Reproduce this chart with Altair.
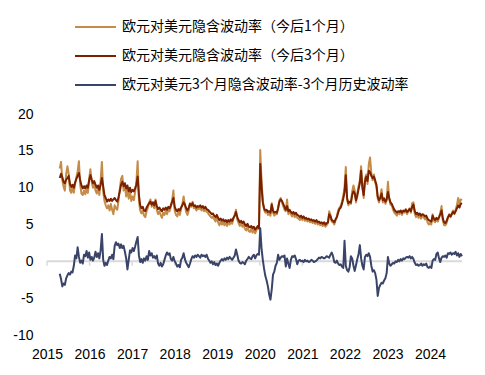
import altair as alt
import pandas as pd

names = [
    "欧元对美元隐含波动率（今后1个月）",
    "欧元对美元隐含波动率（今后3个月）",
    "欧元对美元3个月隐含波动率-3个月历史波动率",
]
colors = ["#C58B47", "#7A2200", "#3A4468"]
year_ticks = list(range(2015, 2025))
y_ticks = [-10, -5, 0, 5, 10, 15, 20]

# sampling grid: start year and step (years)
t0 = 2015.30
dt = 0.03

vol_1m = [
    12.6, 13.5, 11.0, 10.1, 9.6, 11.8, 12.9, 11.9, 9.6, 9.3,
    10.2, 9.3, 10.5, 11.4, 12.2, 13.6, 10.4, 9.2, 9.0, 9.6,
    9.1, 9.8, 9.3, 11.2, 12.5, 10.8, 10.0, 10.7, 9.6, 9.2,
    10.0, 9.0, 11.0, 13.5, 9.5, 8.2, 7.6, 7.2, 7.6, 6.9,
    7.8, 7.0, 6.4, 7.6, 7.2, 7.0, 8.2, 9.8, 11.2, 11.6,
    9.6, 10.4, 8.8, 9.8, 8.5, 9.6, 8.2, 8.8, 8.3, 9.4,
    10.8, 13.6, 8.2, 6.9, 6.5, 6.9, 6.2, 6.0, 6.8, 7.3,
    8.0, 8.4, 7.4, 8.0, 7.2, 8.4, 7.0, 6.4, 6.8, 6.3,
    5.9, 6.6, 6.3, 6.9, 6.4, 7.0, 6.8, 7.4, 8.3, 9.6,
    6.9, 6.3, 6.1, 6.7, 6.3, 7.1, 7.8, 8.8, 7.6, 6.7,
    6.3, 6.9, 7.9, 7.4, 8.1, 7.2, 7.4, 6.9, 7.3, 7.1,
    7.4, 6.9, 7.3, 6.8, 7.2, 6.7, 6.6, 6.3, 6.1, 5.9,
    6.1, 5.7, 5.4, 6.0, 5.3, 4.9, 5.4, 5.0, 5.3, 4.9,
    5.2, 4.8, 5.3, 5.0, 5.4, 5.1, 5.8, 6.3, 7.0, 5.7,
    5.2, 4.8, 5.2, 4.7, 5.0, 4.4, 4.2, 4.7, 4.1, 4.0,
    4.4, 3.9, 4.3, 3.8, 4.2, 4.6, 4.4, 15.1, 11.0, 8.2,
    7.0, 6.6, 6.8, 6.3, 6.5, 6.2, 7.9, 6.6, 6.2, 6.4,
    6.4, 7.3, 8.3, 8.6, 8.0, 7.5, 7.0, 6.8, 8.4, 6.4,
    6.8, 6.4, 6.1, 6.5, 6.0, 6.3, 5.9, 5.8, 5.6, 5.9,
    5.6, 5.9, 5.5, 5.7, 5.4, 5.6, 5.3, 5.5, 5.2, 5.4,
    5.1, 5.4, 5.0, 5.2, 4.9, 5.0, 4.8, 5.1, 4.7, 4.9,
    5.2, 6.8, 6.3, 5.4, 5.3, 5.0, 5.6, 6.1, 6.9, 7.3,
    7.5, 8.1, 8.9, 10.0, 12.8, 8.4, 7.6, 8.0, 7.8, 9.5,
    10.3, 9.6, 8.0, 9.2, 10.2, 11.0, 12.9, 10.1, 8.6, 11.2,
    11.8, 10.5, 13.2, 14.1, 12.0, 11.0, 11.8, 10.7, 10.1, 8.5,
    8.0, 8.7, 9.8, 8.0, 8.6, 7.8, 8.3, 10.8, 8.5, 7.7,
    7.6, 7.0, 6.6, 6.4, 6.2, 6.6, 6.4, 6.8, 6.3, 6.8,
    6.6, 7.1, 6.4, 6.8, 7.2, 6.6, 7.9, 8.0, 6.5, 6.0,
    6.4, 5.9, 6.4, 5.8, 6.2, 6.0, 5.7, 6.0, 5.3, 5.0,
    5.2, 5.0, 6.4, 5.5, 5.3, 5.8, 5.4, 5.9, 6.6, 7.5,
    5.5, 4.9, 4.9, 5.2, 5.9, 6.4, 6.0, 6.5, 6.9, 6.4,
    7.0, 7.6, 8.6, 7.8, 8.4, 8.3,
]

vol_3m = [
    11.3, 11.9, 11.4, 10.8, 10.6, 11.1, 11.3, 11.6, 10.5, 10.1,
    10.4, 10.0, 10.7, 11.2, 11.6, 12.0, 11.0, 10.3, 9.9, 10.2,
    9.9, 10.3, 10.0, 11.0, 11.7, 11.1, 10.6, 10.9, 10.4, 10.0,
    10.3, 9.7, 10.4, 11.3, 10.2, 9.0, 8.6, 8.1, 8.4, 8.2,
    8.5, 8.2, 8.4, 8.6, 8.3, 8.1, 8.7, 9.5, 10.4, 10.8,
    10.2, 10.6, 9.9, 10.3, 9.5, 10.0, 9.4, 9.7, 9.5, 9.9,
    10.4, 11.5, 9.0, 7.6, 7.2, 7.4, 6.9, 6.8, 7.3, 7.6,
    7.9, 8.1, 7.7, 8.0, 7.6, 8.2, 7.5, 7.1, 7.3, 7.0,
    6.8, 7.2, 7.0, 7.3, 7.0, 7.4, 7.2, 7.6, 8.1, 8.6,
    7.4, 7.0, 6.8, 7.1, 6.9, 7.3, 7.6, 8.0, 7.7, 7.2,
    6.9, 7.3, 7.8, 7.6, 7.9, 7.5, 7.6, 7.3, 7.5, 7.4,
    7.6, 7.3, 7.5, 7.2, 7.4, 7.1, 7.0, 6.8, 6.6, 6.4,
    6.5, 6.2, 6.0, 6.3, 5.9, 5.6, 5.8, 5.5, 5.7, 5.4,
    5.6, 5.3, 5.6, 5.4, 5.7, 5.5, 5.9, 6.2, 6.7, 6.0,
    5.6, 5.3, 5.5, 5.2, 5.4, 5.0, 4.8, 5.1, 4.7, 4.6,
    4.8, 4.5, 4.7, 4.3, 4.5, 4.8, 4.5, 13.2, 10.2, 8.0,
    7.2, 6.9, 7.0, 6.7, 6.8, 6.6, 7.7, 6.9, 6.6, 6.7,
    6.6, 7.2, 8.1, 8.4, 8.2, 7.8, 7.4, 7.0, 7.5, 6.8,
    7.0, 6.7, 6.5, 6.7, 6.4, 6.6, 6.3, 6.2, 6.0, 6.2,
    5.9, 6.1, 5.8, 5.9, 5.7, 5.8, 5.6, 5.7, 5.5, 5.6,
    5.4, 5.6, 5.3, 5.4, 5.2, 5.3, 5.1, 5.3, 5.0, 5.2,
    5.3, 6.4, 6.1, 5.6, 5.5, 5.3, 5.7, 6.0, 6.6, 7.1,
    7.3, 7.8, 8.5, 9.4, 11.7, 8.6, 7.9, 8.1, 8.0, 9.0,
    9.5, 9.2, 8.3, 8.9, 9.8, 10.6, 12.3, 10.0, 9.0, 10.8,
    11.5, 10.9, 12.3, 12.1, 11.6, 11.3, 11.5, 11.0, 10.4, 8.8,
    8.3, 8.6, 9.2, 8.3, 8.5, 8.1, 8.4, 9.4, 8.6, 8.0,
    7.8, 7.4, 7.0, 6.8, 6.6, 6.8, 6.7, 6.9, 6.6, 6.9,
    6.8, 7.0, 6.7, 6.9, 7.1, 6.8, 7.4, 7.7, 6.8, 6.4,
    6.6, 6.3, 6.5, 6.2, 6.4, 6.3, 6.1, 6.2, 5.8, 5.6,
    5.5, 5.4, 6.2, 5.8, 5.6, 5.9, 5.7, 6.0, 6.4, 6.9,
    5.8, 5.3, 5.2, 5.5, 6.0, 6.3, 6.1, 6.4, 6.7, 6.5,
    6.8, 7.2, 7.6, 7.3, 7.8, 7.9,
]

spread = [
    -1.7, -2.4, -3.4, -3.0, -3.2, -2.3, -1.9, -1.6, -1.8, -1.4,
    -1.5, -0.6, 0.8, 0.4, 1.9, 0.6, -0.2, 0.1, -0.3, 0.9,
    0.7, 1.4, 0.5, 1.2, 0.2, 0.6, 0.1, 0.5, 1.3, 0.6,
    1.1, 0.4, 1.5, 3.7, 0.2, -0.6, -0.2, -0.5, 0.1, 0.6,
    0.4, 0.9, 0.3, 2.1, 2.6, 2.2, 2.4, 1.8, 2.3, 1.8,
    2.1, 1.3, 0.4, -1.1, 0.2, 1.5, 1.2, 1.8, 1.4, 2.0,
    2.7, 3.3, 0.8, -0.1, 0.3, -0.2, 0.4, 0.1, 0.7, 0.2,
    1.4, 0.8, 1.1, 0.5, 0.7, 0.4, 0.8, -0.3, -0.6, -0.2,
    -0.7, -0.4, 0.2, 0.8, 1.2, 0.9, 1.1, 0.3, 0.1, 0.6,
    0.0, -0.3, -0.7, -0.5, -0.8, 0.2, 0.5, 1.1, 0.3, -0.2,
    -0.5, -0.8, -0.3, 0.3, 0.7, 0.5, 0.8, 0.6, 0.9, 0.7,
    0.5, 0.9, 0.7, 0.8, 0.6, 0.9, 0.4, 0.1, -0.2, 0.0,
    -0.4, -0.1, -0.5, -0.3, -0.6, -0.2, 0.1, 0.3, 0.1, 0.4,
    0.2, 0.5, 0.3, 0.6, 0.4, 0.2, 0.5, 0.8, 1.6, 0.9,
    0.1, -0.2, -0.3, -0.1, -0.2, -0.4, 0.1, 0.3, 0.6, 0.4,
    0.3, 0.7, 0.9, 0.4, 0.8, 1.0, 0.9, 4.5, 1.8, 0.2,
    -1.0, -2.0, -2.6, -3.4, -4.5, -5.2, -3.8, -1.8, -1.4, -0.6,
    -0.2, 0.9, 0.2, 0.5, 0.7, 0.6, 0.8, -0.7, 0.4, -0.3,
    -0.9, 0.2, 0.7, 0.6, 0.8, 0.3, -0.4, 0.1, 0.2, 0.0,
    0.1, -0.1, 0.2, 0.0, 0.1, -0.1, 0.0, 0.2, 0.1, -0.1,
    0.0, 0.1, 0.3, 0.5, 0.4, 0.6, 0.5, 0.4, 0.5, 0.7,
    0.6, 0.5, 0.9, 1.2, 0.7, -0.1, -0.2, 0.1, -0.3, -0.5,
    -0.4, -0.7, -0.9, 2.8, -0.6, -1.2, -1.4, -0.8, 0.7, 0.4,
    -0.6, -1.3, -0.5, 0.3, 1.0, 2.2, 0.4, -0.6, -1.1, 0.6,
    0.9, 0.7, 1.1, 0.6, -0.6, -1.4, -1.2, -1.6, -2.5, -4.7,
    -3.6, -3.2, -2.9, -3.0, -2.6, -2.3, -1.6, 0.6, -0.3, -0.6,
    -0.4, -0.2, -0.3, 0.0, -0.1, 0.2, 0.0, 0.3, 0.1, 0.4,
    0.3, 0.5, 0.6, 0.5, 0.7, 0.4, 0.6, 0.3, -0.2, -0.5,
    -0.4, -0.6, -0.5, -0.3, -0.6, -0.4, -0.5, -0.3, -0.8, -0.9,
    -0.7, -0.9, 0.1, 0.3, 0.2, 1.0, 1.2, 0.4, -0.1, 0.5,
    0.7, 0.6, 0.8, 0.5, 1.1, 1.0, 1.2, 0.9, 1.1, 1.0,
    1.3, 0.8, 1.1, 0.6, 1.0, 0.7,
]

n = min(len(vol_1m), len(vol_3m), len(spread))
years = [round(t0 + dt * i, 2) for i in range(n)]

rows = []
for name, vals in zip(names, [vol_1m, vol_3m, spread]):
    for t, v in zip(years, vals[:n]):
        rows.append({"t": t, "v": v, "s": name})
df = pd.DataFrame(rows)

x_start, x_end = 2015, years[-1]

x_scale = alt.Scale(domain=[x_start, x_end], nice=False, zero=False)
y_scale = alt.Scale(domain=[-10, 20], nice=False)

x_axis = alt.Axis(values=year_ticks, labelExpr="'' + datum.value",
                  labelFont="Liberation Sans", labelFontSize=14,
                  labelColor="#000000", domain=False, ticks=False, grid=False,
                  labelPadding=12, title=None, labelOverlap=False,
                  labelFlush=False)
y_axis = alt.Axis(values=y_ticks, labelExpr="'' + datum.value",
                  labelFont="Liberation Sans", labelFontSize=14,
                  labelColor="#000000", domain=False, ticks=False, grid=False,
                  labelPadding=14, title=None, labelOverlap=False,
                  labelFlush=False)

color = alt.Color(
    "s:N",
    scale=alt.Scale(domain=names, range=colors),
    legend=alt.Legend(
        title=None, orient="none", legendX=27, legendY=-108.5,
        symbolType="stroke", symbolSize=1681, symbolStrokeWidth=2,
        labelFont="Noto Sans CJK SC", labelFontSize=14, labelColor="#000000",
        rowPadding=-14.2, labelOffset=5, padding=0, labelLimit=400,
    ),
)

zero_df = pd.DataFrame({"x0": [x_start], "x1": [x_end], "y0": [0]})
zero_line = alt.Chart(zero_df).mark_rule(color="#D9D9D9", strokeWidth=2).encode(
    x=alt.X("x0:Q", scale=x_scale, axis=x_axis),
    x2="x1:Q",
    y=alt.Y("y0:Q", scale=y_scale, axis=y_axis),
)

tick_df = pd.DataFrame({"t": year_ticks, "a": [0] * len(year_ticks), "b": [-0.6] * len(year_ticks)})
tick_marks = alt.Chart(tick_df).mark_rule(color="#D9D9D9", strokeWidth=1.5).encode(
    x=alt.X("t:Q", scale=x_scale, axis=x_axis),
    y=alt.Y("a:Q", scale=y_scale, axis=y_axis),
    y2="b:Q",
)

layers = [zero_line, tick_marks]
for name in names:
    layers.append(
        alt.Chart(df).transform_filter(alt.datum.s == name)
        .mark_line(strokeWidth=2, strokeJoin="round")
        .encode(
            x=alt.X("t:Q", scale=x_scale, axis=x_axis),
            y=alt.Y("v:Q", scale=y_scale, axis=y_axis),
            color=color,
        )
    )

chart = alt.layer(*layers).properties(
    width=415, height=221,
    autosize=alt.AutoSizeParams(type="none"),
    padding={"left": 39, "top": 106, "right": 15, "bottom": 32},
    background="#FFFFFF",
).configure_view(stroke=None)

chart.save("out.html", embed_options={"renderer": "svg", "actions": False})
